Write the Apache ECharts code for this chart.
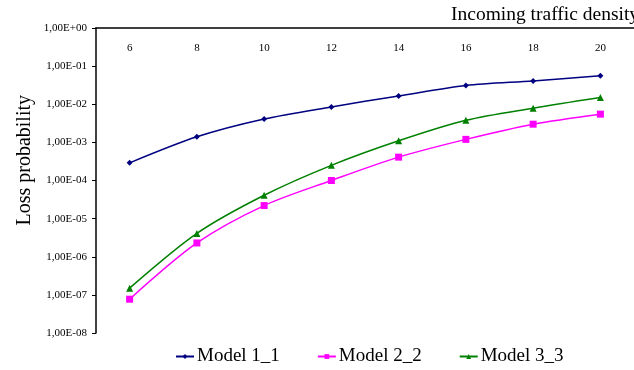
<!DOCTYPE html>
<html>
<head>
<meta charset="utf-8">
<script src="https://cdn.jsdelivr.net/npm/echarts@6/dist/echarts.min.js"></script>
<style>
  html, body { margin: 0; padding: 0; background: #fff; }
  #main { width: 634px; height: 370px; }
</style>
</head>
<body>
<div id="main"></div>
<script>
// data
var density = ['6', '8', '10', '12', '14', '16', '18', '20'];
var model11 = [2.9e-4, 1.4e-3, 4.1e-3, 8.5e-3, 1.65e-2, 3.1e-2, 4.1e-2, 5.6e-2];
var model22 = [7.7e-8, 2.3e-6, 2.2e-5, 1.0e-4, 4.1e-4, 1.2e-3, 3.0e-3, 5.5e-3];
var model33 = [1.5e-7, 4.1e-6, 4.1e-5, 2.5e-4, 1.1e-3, 3.8e-3, 7.9e-3, 1.5e-2];
var yTickLabels = ['1,00E-08', '1,00E-07', '1,00E-06', '1,00E-05', '1,00E-04',
                   '1,00E-03', '1,00E-02', '1,00E-01', '1,00E+00'];

var serif = '"Liberation Serif", "Times New Roman", serif';
var myChart = echarts.init(document.getElementById('main'));

function mkSeries(name, data, color, symbol, size) {
    return {
        name: name,
        type: 'line',
        smooth: 0.3,
        data: data,
        symbol: symbol,
        symbolSize: size,
        lineStyle: { color: color, width: 1.5 },
        itemStyle: { color: color },
        animation: false
    };
}

var option = {
    animation: false,
    title: {
        text: 'Incoming traffic density',
        left: 446, top: 0,
        textStyle: { fontFamily: serif, fontSize: 19.5, fontWeight: 'normal', color: '#000' }
    },
    graphic: [{
        type: 'text',
        left: 15, top: 95,
        rotation: Math.PI / 2,
        style: { text: 'Loss probability', font: '20px ' + serif, fill: '#000' }
    }],
    legend: {
        bottom: 4, left: 175, padding: 0,
        itemWidth: 18, itemHeight: 6, itemGap: 37,
        textStyle: { fontFamily: serif, fontSize: 19, color: '#000', padding: [0, 0, 0, -2] },
        data: ['Model 1_1', 'Model 2_2', 'Model 3_3']
    },
    grid: { left: 96, top: 28, right: 0, bottom: 37 },
    xAxis: {
        type: 'category',
        position: 'top',
        data: density,
        boundaryGap: true,
        axisLine: { lineStyle: { color: '#000', width: 1.5 } },
        axisTick: { inside: true, length: 4, lineStyle: { color: '#000' } },
        axisLabel: { inside: true, margin: 15, fontFamily: serif, fontSize: 11, color: '#000' },
        splitLine: { show: false }
    },
    yAxis: {
        type: 'log',
        logBase: 10,
        min: 1e-8, max: 1,
        splitNumber: 8,
        axisLine: { show: true, lineStyle: { color: '#000', width: 1.5 } },
        axisTick: { show: true, length: 4, lineStyle: { color: '#000' } },
        axisLabel: {
            margin: 9, fontFamily: serif, fontSize: 11, color: '#000',
            formatter: function (v) {
                var e = Math.round(Math.log(v) / Math.LN10);
                return yTickLabels[e + 8];
            }
        },
        splitLine: { show: false }
    },
    series: [
        mkSeries('Model 1_1', model11, '#000080', 'diamond', 6),
        mkSeries('Model 2_2', model22, '#ff00ff', 'rect', 7),
        mkSeries('Model 3_3', model33, '#008000', 'triangle', 7)
    ]
};

myChart.setOption(option);
</script>
</body>
</html>
